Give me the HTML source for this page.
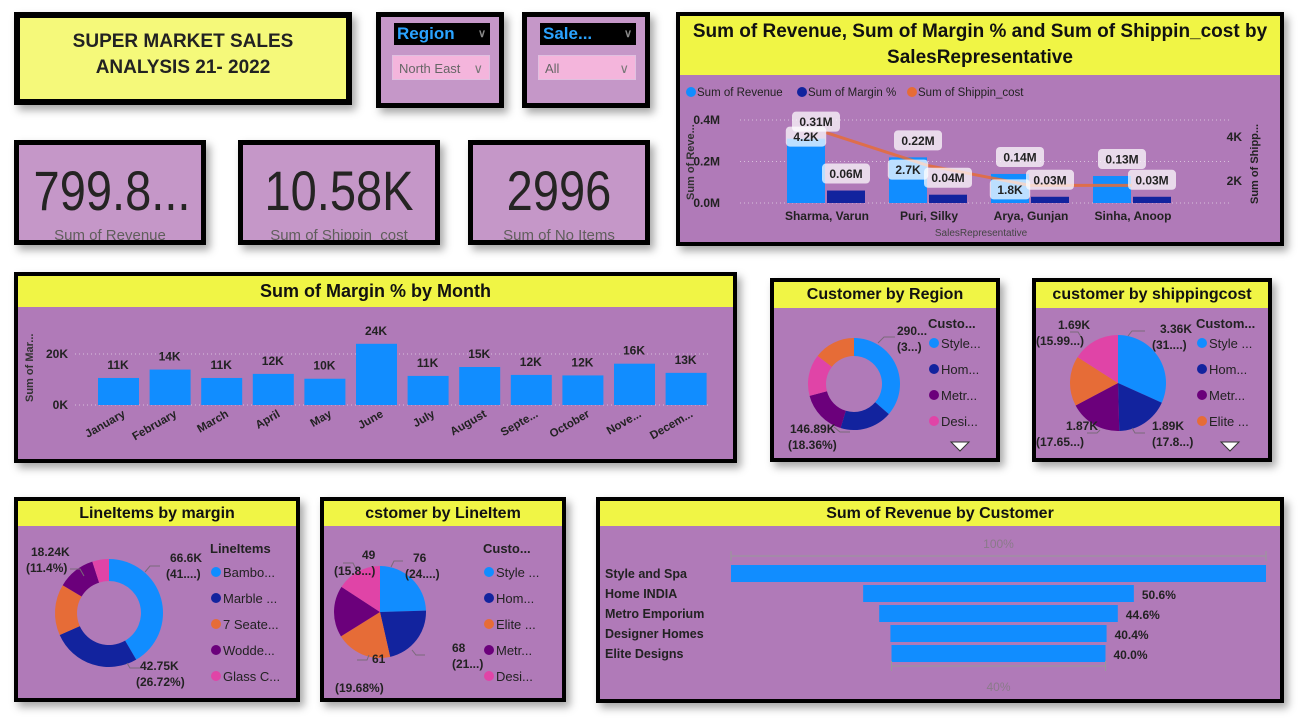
<!DOCTYPE html>
<html><head><meta charset="utf-8">
<style>
body{margin:0;width:1298px;height:728px;background:#fff;position:relative;overflow:hidden;font-family:"Liberation Sans",sans-serif}
.p{position:absolute;box-sizing:border-box;border:4px solid #000;background:#b07ab8;box-shadow:4px 5px 8px rgba(0,0,0,.35)}
.hd{position:absolute;left:0;right:0;top:0;background:#f0f545;color:#111;font-weight:bold;text-align:center}
.kpi{background:#c597c8;border-width:5px;overflow:hidden;text-align:center}
.kv{position:absolute;left:0;right:0;top:14px;font-size:56px;line-height:64px;color:#252423;transform:scaleX(0.84);white-space:nowrap}
.kl{position:absolute;left:0;right:0;top:82px;font-size:15px;color:#605e5c}
#ov{position:absolute;left:0;top:0}
text{font-family:"Liberation Sans",sans-serif}
</style></head><body>
<div class="p" style="left:14px;top:12px;width:338px;height:93px;border-width:6px;background:#f5f97a">
<div style="text-align:center;font-weight:bold;font-size:19px;line-height:26px;margin-top:11px;color:#222">SUPER MARKET SALES<br>ANALYSIS 21- 2022</div></div>

<div class="p" style="left:376px;top:12px;width:128px;height:96px;background:#c597c8;border-width:5px">
<div style="position:absolute;left:13px;top:6px;width:96px;height:22px;background:#000;color:#2aa3ff;font-weight:bold;font-size:17px;line-height:22px;padding-left:3px;box-sizing:border-box">Region<span style="position:absolute;right:4px;color:#888;font-size:11px">∨</span></div>
<div style="position:absolute;left:11px;top:38px;width:98px;height:25px;background:#f4b5dc;color:#666;font-size:13px;line-height:25px;padding-left:6px;box-sizing:border-box;border:1px solid #e0c0e0">North East<span style="position:absolute;right:6px;color:#777">∨</span></div></div>

<div class="p" style="left:522px;top:12px;width:128px;height:96px;background:#c597c8;border-width:5px">
<div style="position:absolute;left:13px;top:6px;width:96px;height:22px;background:#000;color:#2aa3ff;font-weight:bold;font-size:17px;line-height:22px;padding-left:3px;box-sizing:border-box">Sale...<span style="position:absolute;right:4px;color:#888;font-size:11px">∨</span></div>
<div style="position:absolute;left:11px;top:38px;width:98px;height:25px;background:#f4b5dc;color:#666;font-size:13px;line-height:25px;padding-left:6px;box-sizing:border-box;border:1px solid #e0c0e0">All<span style="position:absolute;right:6px;color:#777">∨</span></div></div>

<div class="p kpi" style="left:14px;top:140px;width:192px;height:105px"><div class="kv">799.8...</div><div class="kl">Sum of Revenue</div></div>
<div class="p kpi" style="left:238px;top:140px;width:202px;height:105px"><div class="kv">10.58K</div><div class="kl">Sum of Shippin_cost</div></div>
<div class="p kpi" style="left:468px;top:140px;width:182px;height:105px"><div class="kv">2996</div><div class="kl">Sum of No Items</div></div>

<div class="p" style="left:676px;top:12px;width:608px;height:234px"><div class="hd" style="height:56px;font-size:19px;line-height:26px;padding-top:3px">Sum of Revenue, Sum of Margin % and Sum of Shippin_cost by<br>SalesRepresentative</div></div>
<div class="p" style="left:14px;top:272px;width:723px;height:191px"><div class="hd" style="height:31px;font-size:18px;line-height:31px">Sum of Margin % by Month</div></div>
<div class="p" style="left:770px;top:278px;width:230px;height:184px"><div class="hd" style="height:26px;font-size:16px;line-height:26px">Customer by Region</div></div>
<div class="p" style="left:1032px;top:278px;width:240px;height:184px"><div class="hd" style="height:26px;font-size:16px;line-height:26px">customer by shippingcost</div></div>
<div class="p" style="left:14px;top:497px;width:286px;height:205px"><div class="hd" style="height:25px;font-size:16px;line-height:25px">LineItems by margin</div></div>
<div class="p" style="left:320px;top:497px;width:246px;height:205px"><div class="hd" style="height:25px;font-size:16px;line-height:25px">cstomer by LineItem</div></div>
<div class="p" style="left:596px;top:497px;width:688px;height:206px"><div class="hd" style="height:25px;font-size:16px;line-height:25px">Sum of Revenue by Customer</div></div>

<svg id="ov" width="1298" height="728"></svg>
<script>
// combo chart data
const reps=["Sharma, Varun","Puri, Silky","Arya, Gunjan","Sinha, Anoop"];
const revenue=[0.31,0.22,0.14,0.13];
const marginM=[0.06,0.04,0.03,0.03];
const shipping=[4.2,2.7,1.8,1.8];
const revLabels=["0.31M","0.22M","0.14M","0.13M"];
const marLabels=["0.06M","0.04M","0.03M","0.03M"];
const shipLabels=["4.2K","2.7K","1.8K",""];
// month chart data
const months=["January","February","March","April","May","June","July","August","Septe...","October","Nove...","Decem..."];
const monthMargin=[10.6,13.9,10.6,12.2,10.3,24.0,11.4,14.9,11.8,11.6,16.2,12.6];
const monthLabels=["11K","14K","11K","12K","10K","24K","11K","15K","12K","12K","16K","13K"];
// pies
const regionVals=[290.5,146.89,129,117,116];
const shipVals=[3.36,1.89,1.87,1.78,1.69];
const lineVals=[66.6,42.75,24.5,18.24,8];
const custLineVals=[76,68,61,56,49];
// funnel
const funnelCats=["Style and Spa","Home INDIA","Metro Emporium","Designer Homes","Elite Designs"];
const funnelPct=[100,50.6,44.6,40.4,40.0];

const NS="http://www.w3.org/2000/svg";
const svg=document.getElementById('ov');
function mk(tag,attrs,txt){const e=document.createElementNS(NS,tag);for(const k in attrs)e.setAttribute(k,attrs[k]);if(txt!==undefined)e.textContent=txt;svg.appendChild(e);return e;}
const LB="#118dff",DB="#12239e",OR="#e66c37",PU="#6b007b",PK="#e044a7";

// ---- combo chart
const cy0=203,cyPer=83/0.4; const ry=v=>cy0-v*cyPer; const sy=v=>225-v*22;
const gx=i=>826+i*102;
[0,0.2,0.4].forEach(t=>{
 const g=mk('line',{x1:740,x2:1230,y1:ry(t),y2:ry(t),stroke:'#d8c0dc','stroke-dasharray':'1 3'});
 
 const l=mk('text',{x:720,y:ry(t)+4,'text-anchor':'end','font-size':12,'font-weight':'bold',fill:'#222'},t.toFixed(1)+'M');
 
});
[2,4].forEach(t=>{const l=mk('text',{x:1242,y:sy(t)+4,'text-anchor':'end','font-size':12,'font-weight':'bold',fill:'#222'},t+'K');
 });
let yt=mk('text',{transform:'translate(694,200) rotate(-90)','font-size':11,'font-weight':'bold',fill:'#333'},'Sum of Reve...');

yt=mk('text',{transform:'translate(1258,204) rotate(-90)','font-size':11,'font-weight':'bold',fill:'#222'},'Sum of Shipp...');

reps.forEach((r,i)=>{
 const b=mk('rect',{x:gx(i)-39,y:ry(revenue[i]),width:38,height:cy0-ry(revenue[i]),fill:LB});
 
 const m=mk('rect',{x:gx(i)+1,y:ry(marginM[i]),width:38,height:cy0-ry(marginM[i]),fill:DB});
 
 const t=mk('text',{x:gx(i)+1,y:220,'text-anchor':'middle','font-size':12,'font-weight':'bold',fill:'#222'},r);
 
});
const lp=mk('polyline',{points:shipping.map((v,i)=>gx(i)+','+sy(v)).join(' '),fill:'none',stroke:OR,'stroke-width':3,opacity:0.85});

function tag(x,y,s,nm){const w=s.length*7.6+10;
 const r=mk('rect',{x:x-w/2,y:y-10,width:w,height:20,rx:4,fill:'rgba(255,255,255,0.72)'});
 
 const t=mk('text',{x:x,y:y+4.5,'text-anchor':'middle','font-size':12,'font-weight':'bold',fill:'#222'},s);
 }
reps.forEach((r,i)=>{
 tag(gx(i)-10,ry(revenue[i])-17,revLabels[i],'revenue-data-label');
 if(shipLabels[i])tag(gx(i)-20,sy(shipping[i])+4,shipLabels[i],'shipping-data-label');
 tag(gx(i)+20,ry(marginM[i])-17,marLabels[i],'margin-data-label');
});
[[LB,'Sum of Revenue',686],[DB,'Sum of Margin %',797],[OR,'Sum of Shippin_cost',907]].forEach(d=>{
 const c=mk('circle',{cx:d[2]+5,cy:92,r:5,fill:d[0]});
 const t=mk('text',{x:d[2]+11,y:96,'font-size':11.5,fill:'#222'},d[1]);
});
let xt=mk('text',{x:981,y:236,'text-anchor':'middle','font-size':10,fill:'#444'},'SalesRepresentative');


// ---- month chart
const my=v=>405-v*51/20; const mx=i=>118+i*51.6;
[0,20].forEach(t=>{const g=mk('line',{x1:75,x2:710,y1:my(t),y2:my(t),stroke:'#d8c0dc','stroke-dasharray':'1 3'});
 
 const l=mk('text',{x:68,y:my(t)+4,'text-anchor':'end','font-size':12,'font-weight':'bold',fill:'#222'},t+'K');
 });
yt=mk('text',{transform:'translate(33,402) rotate(-90)','font-size':11,'font-weight':'bold',fill:'#333'},'Sum of Mar...');

months.forEach((m,i)=>{
 const b=mk('rect',{x:mx(i)-20,y:my(monthMargin[i]),width:41,height:405-my(monthMargin[i]),fill:LB});
 
 const v=mk('text',{x:mx(i),y:my(monthMargin[i])-9,'text-anchor':'middle','font-size':12,'font-weight':'bold',fill:'#222'},monthLabels[i]);
 
 const t=mk('text',{transform:`translate(${mx(i)+8},${416}) rotate(-30)`,'text-anchor':'end','font-size':11.5,'font-weight':'bold',fill:'#222'},m);
 
});

// ---- pies
function arc(cx,cy,r0,r1,a0,a1){const p=(r,a)=>[cx+r*Math.cos(a),cy+r*Math.sin(a)];const L=a1-a0>Math.PI?1:0;
 const [x1,y1]=p(r1,a0),[x2,y2]=p(r1,a1);
 if(r0<=0)return `M${cx},${cy}L${x1},${y1}A${r1},${r1} 0 ${L} 1 ${x2},${y2}Z`;
 const [x3,y3]=p(r0,a1),[x4,y4]=p(r0,a0);
 return `M${x1},${y1}A${r1},${r1} 0 ${L} 1 ${x2},${y2}L${x3},${y3}A${r0},${r0} 0 ${L} 0 ${x4},${y4}Z`;}
function pie(vals,cols,cx,cy,r0,r1,nm){const s=vals.reduce((a,b)=>a+b,0);let a=-Math.PI/2;
 vals.forEach((v,i)=>{const a1=a+v/s*2*Math.PI;const e=mk('path',{d:arc(cx,cy,r0,r1,a,a1),fill:cols[i]});
  a=a1;});}
pie(regionVals,[LB,DB,PU,PK,OR],854,384,28,46,'region-slice');
pie(shipVals,[LB,DB,PU,OR,PK],1118,383,0,48,'shipping-slice');
pie(lineVals,[LB,DB,OR,PU,PK],109,613,32,54,'lineitem-slice');
pie(custLineVals,[LB,DB,OR,PU,PK],380,612,0,46,'customer-lineitem-slice');

function txt(x,y,s,o,nm){const t=mk('text',Object.assign({x:x,y:y,'font-size':12,fill:'#222'},o||{}),s);
 return t;}
function leader(pts){const l=mk('polyline',{points:pts,fill:'none',stroke:'#7a6a7a','stroke-width':1});
 }
const B={'font-weight':'bold'};
// region labels
leader('878,343 884,337 895,337');txt(897,335,'290...',B,'region-data-label');txt(897,351,'(3...)',B,'region-data-label');
leader('834,427 840,432 850,432');txt(790,433,'146.89K',B,'region-data-label');txt(788,449,'(18.36%)',B,'region-data-label');
txt(928,328,'Custo...',{'font-weight':'bold','font-size':13},'region-legend-title');
[[LB,'Style...'],[DB,'Hom...'],[PU,'Metr...'],[PK,'Desi...']].forEach((d,i)=>{const c=mk('circle',{cx:934,cy:343+i*26,r:5,fill:d[0]});
 
 txt(941,348+i*26,d[1],{'font-size':13},'region-legend-entry');});
// shipping labels
leader('1128,336 1132,331 1145,331');txt(1160,333,'3.36K',B,'shipping-data-label');txt(1152,349,'(31....)',B,'shipping-data-label');
leader('1083,340 1078,332 1070,332');txt(1058,329,'1.69K',B,'shipping-data-label');txt(1036,345,'(15.99...)',B,'shipping-data-label');
leader('1132,428 1135,433 1145,433');txt(1152,430,'1.89K',B,'shipping-data-label');txt(1152,446,'(17.8...)',B,'shipping-data-label');
leader('1100,430 1097,433 1087,433');txt(1066,430,'1.87K',B,'shipping-data-label');txt(1036,446,'(17.65...)',B,'shipping-data-label');
txt(1196,328,'Custom...',{'font-weight':'bold','font-size':13},'shipping-legend-title');
[[LB,'Style ...'],[DB,'Hom...'],[PU,'Metr...'],[OR,'Elite ...']].forEach((d,i)=>{const c=mk('circle',{cx:1202,cy:343+i*26,r:5,fill:d[0]});
 
 txt(1209,348+i*26,d[1],{'font-size':13},'shipping-legend-entry');});
[[960,446],[1230,446]].forEach(p=>{const t=mk('path',{d:`M${p[0]-9},${p[1]-4}L${p[0]+9},${p[1]-4}L${p[0]},${p[1]+5}Z`,fill:'#fff',stroke:'#333','stroke-width':1});
 });
// lineitems labels
leader('145,572 150,566 160,566');txt(170,562,'66.6K',B,'lineitem-data-label');txt(166,578,'(41....)',B,'lineitem-data-label');
leader('84,576 80,569 70,569');txt(31,556,'18.24K',B,'lineitem-data-label');txt(26,572,'(11.4%)',B,'lineitem-data-label');
leader('127,663 130,668 140,668');txt(140,670,'42.75K',B,'lineitem-data-label');txt(136,686,'(26.72%)',B,'lineitem-data-label');
txt(210,553,'LineItems',{'font-weight':'bold','font-size':13},'lineitem-legend-title');
[[LB,'Bambo...'],[DB,'Marble ...'],[OR,'7 Seate...'],[PU,'Wodde...'],[PK,'Glass C...']].forEach((d,i)=>{const c=mk('circle',{cx:216,cy:572+i*26,r:5,fill:d[0]});
 
 txt(223,577+i*26,d[1],{'font-size':13},'lineitem-legend-entry');});
// customer lineitem labels
leader('391,567 394,561 403,561');txt(413,562,'76',B,'cust-lineitem-data-label');txt(405,578,'(24....)',B,'cust-lineitem-data-label');
leader('356,569 353,563 343,563');txt(362,559,'49',B,'cust-lineitem-data-label');txt(334,575,'(15.8...)',B,'cust-lineitem-data-label');
leader('412,650 416,655 425,655');txt(452,652,'68',B,'cust-lineitem-data-label');txt(452,668,'(21...)',B,'cust-lineitem-data-label');
leader('369,655 367,660 357,660');txt(372,663,'61',B,'cust-lineitem-data-label');txt(335,692,'(19.68%)',B,'cust-lineitem-data-label');
txt(483,553,'Custo...',{'font-weight':'bold','font-size':13},'cust-lineitem-legend-title');
[[LB,'Style ...'],[DB,'Hom...'],[OR,'Elite ...'],[PU,'Metr...'],[PK,'Desi...']].forEach((d,i)=>{const c=mk('circle',{cx:489,cy:572+i*26,r:5,fill:d[0]});
 
 txt(496,577+i*26,d[1],{'font-size':13},'cust-lineitem-legend-entry');});

// ---- funnel
const fc=998.5,fw=535;const fwid=p=>p/100*fw;
const ax=mk('path',{d:`M731,551V561M731,556H1266M1266,551V561`,stroke:'#999',fill:'none'});
txt(fc,548,'100%',{'text-anchor':'middle',fill:'#8a7a8a'},'funnel-top-label');
funnelCats.forEach((c,i)=>{const w=fwid(funnelPct[i]);
 const b=mk('rect',{x:fc-w/2,y:565+i*20,width:w,height:17,fill:LB});
 txt(605,578+i*20,c,{'font-weight':'bold','font-size':12.5},'funnel-category-label');
 if(i>0)txt(fc+w/2+8,579+i*20,funnelPct[i].toFixed(1)+'%',B,'funnel-value-label');});
const lw=fwid(funnelPct[funnelPct.length-1]);
const ax2=mk('path',{d:`M${fc-lw/2},661V671M${fc-lw/2},666H${fc+lw/2}M${fc+lw/2},661V671`,stroke:'#999',fill:'none'});
txt(fc,691,'40%',{'text-anchor':'middle',fill:'#8a7a8a'},'funnel-bottom-label');
</script>
</body></html>
